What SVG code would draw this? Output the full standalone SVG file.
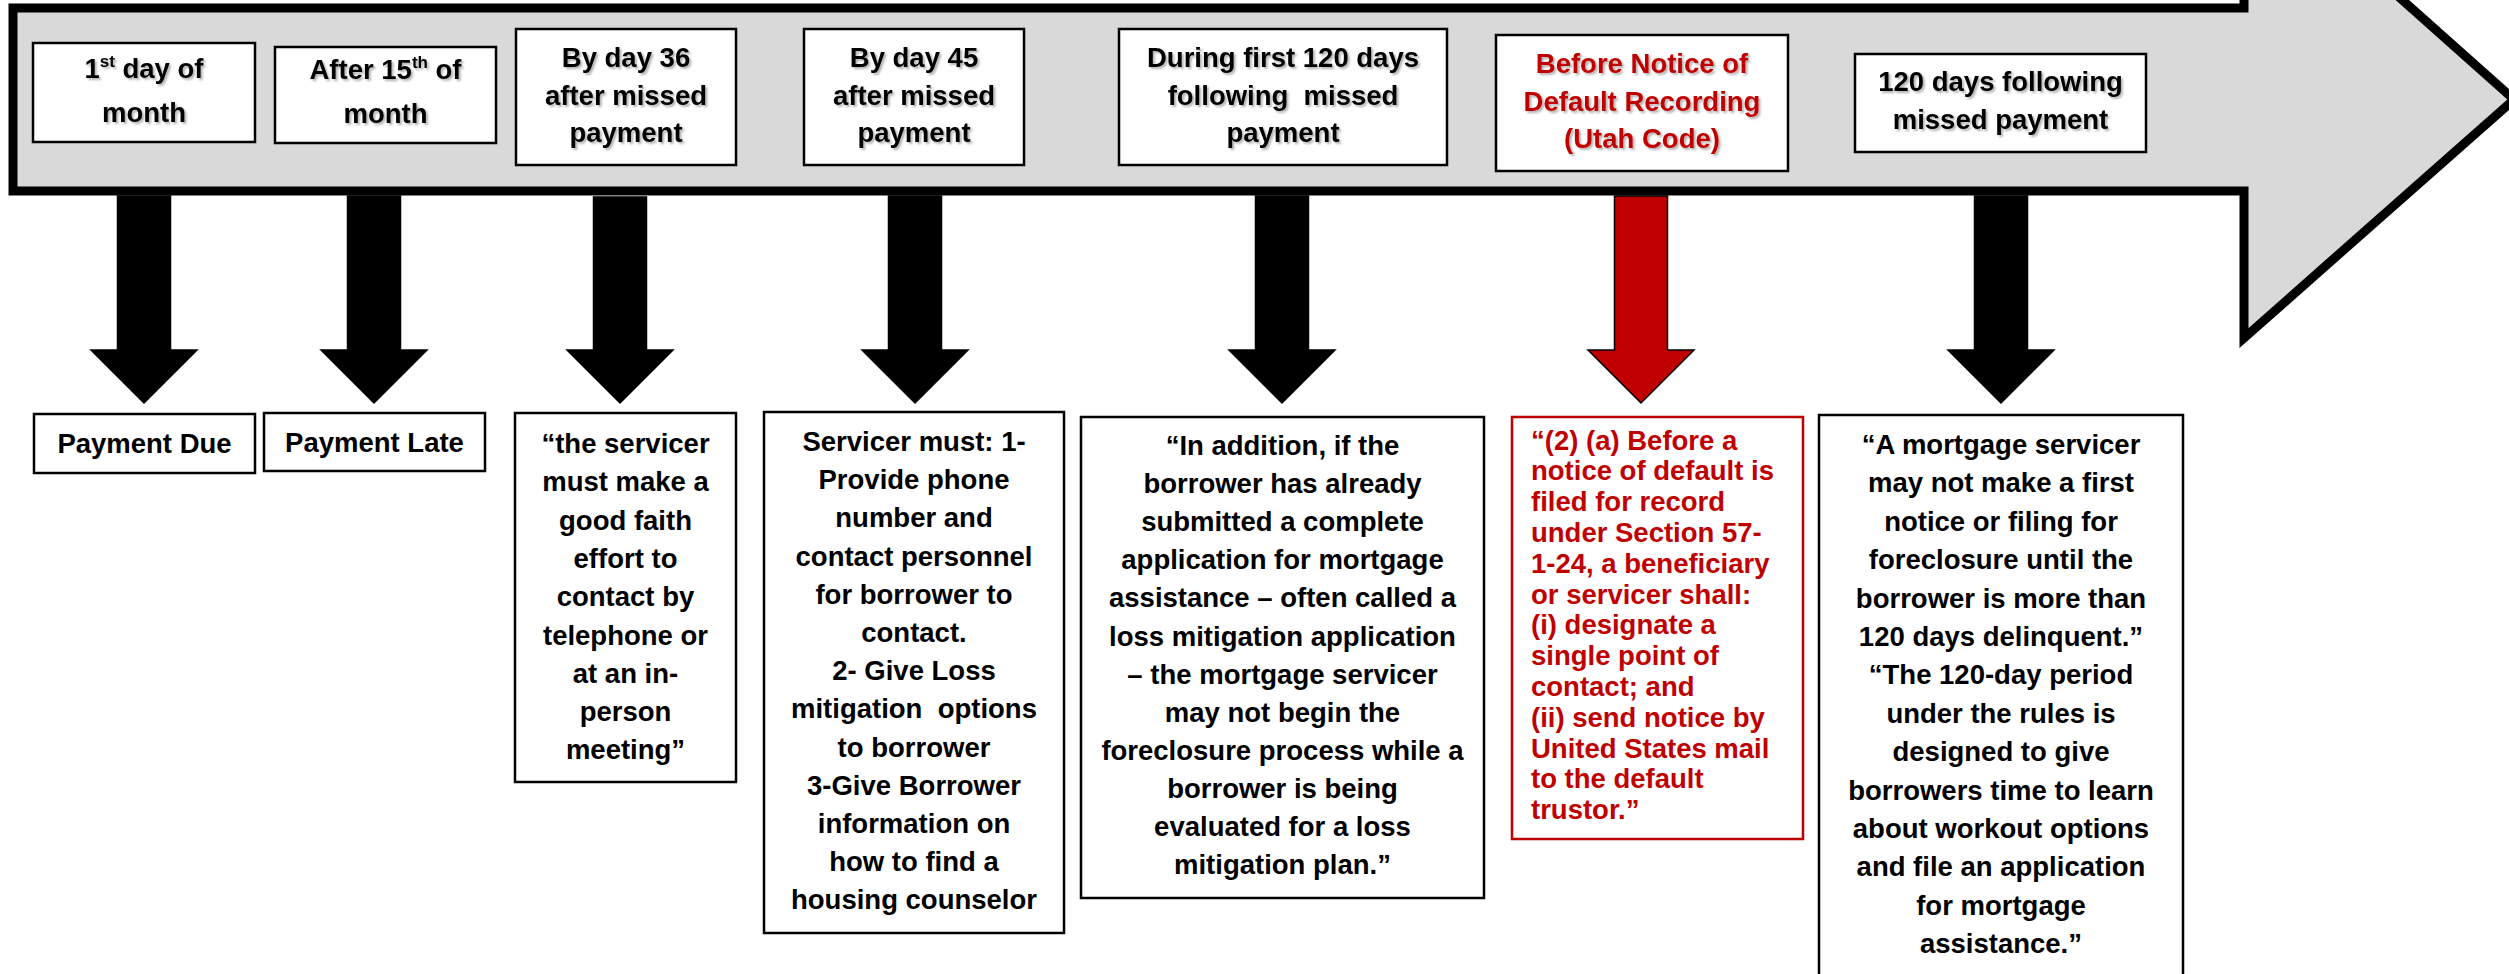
<svg xmlns="http://www.w3.org/2000/svg" width="2509" height="974" viewBox="0 0 2509 974">
  <defs>
    <style>
      .box { fill: #ffffff; stroke: #000000; stroke-width: 2.5; }
      .rbox { fill: #ffffff; stroke: #c00000; stroke-width: 2.5; }
      .t { font-family: "Liberation Sans", Arial, sans-serif; font-weight: bold; font-size: 27.5px; fill: #000000; text-anchor: middle; }
      .r { fill: #c00000; }
      .l { text-anchor: start; }
      .sh { filter: url(#shadow); }
      .arr { fill: #000000; stroke: #000000; stroke-width: 1.5; stroke-linejoin: miter; }
      .rarr { fill: #c00000; stroke: #000000; stroke-width: 1.5; stroke-linejoin: miter; }
    </style>
    <filter id="shadow" x="-10%" y="-20%" width="130%" height="150%">
      <feDropShadow dx="2" dy="2" stdDeviation="1.2" flood-color="#000000" flood-opacity="0.3"/>
    </filter>
  </defs>

  <g id="timeline">
    <path d="M13,8 H2244 V-141 L2514,99.5 L2244,338 V191 H13 Z" fill="#d9d9d9" stroke="#000000" stroke-width="9" stroke-linejoin="miter"/>
  </g>

  <g id="connectors">
    <path class="arr" d="M117.5,196 H170.5 V350 H197 L144,403 L91,350 H117.5 Z"/>
    <path class="arr" d="M347.5,196 H400.5 V350 H427 L374,403 L321,350 H347.5 Z"/>
    <path class="arr" d="M593.5,197 H646.5 V350 H673 L620,403 L567,350 H593.5 Z"/>
    <path class="arr" d="M888.5,196 H941.5 V350 H968 L915,403 L862,350 H888.5 Z"/>
    <path class="arr" d="M1255.5,196 H1308.5 V350 H1335 L1282,403 L1229,350 H1255.5 Z"/>
    <path class="rarr" d="M1614.5,196 H1667.5 V350 H1694 L1641,403 L1588,350 H1614.5 Z"/>
    <path class="arr" d="M1974.5,196 H2027.5 V350 H2054 L2001,403 L1948,350 H1974.5 Z"/>
  </g>

  <g id="top1">
    <rect class="box" x="33" y="43" width="222" height="99"/>
    <text class="t sh" x="144" y="78">1<tspan font-size="17" dy="-11">st</tspan><tspan dy="11"> day of</tspan></text>
    <text class="t sh" x="144" y="122">month</text>
  </g>
  <g id="top2">
    <rect class="box" x="275" y="47" width="221" height="96"/>
    <text class="t sh" x="385.5" y="79">After 15<tspan font-size="17" dy="-11">th</tspan><tspan dy="11"> of</tspan></text>
    <text class="t sh" x="385.5" y="123">month</text>
  </g>
  <g id="top3">
    <rect class="box" x="516" y="29" width="220" height="136"/>
    <text class="t sh" x="626" y="67">By day 36</text>
    <text class="t sh" x="626" y="104.5">after missed</text>
    <text class="t sh" x="626" y="142">payment</text>
  </g>
  <g id="top4">
    <rect class="box" x="804" y="29" width="220" height="136"/>
    <text class="t sh" x="914" y="67">By day 45</text>
    <text class="t sh" x="914" y="104.5">after missed</text>
    <text class="t sh" x="914" y="142">payment</text>
  </g>
  <g id="top5">
    <rect class="box" x="1119" y="29" width="328" height="136"/>
    <text class="t sh" x="1283" y="67">During first 120 days</text>
    <text class="t sh" x="1283" y="104.5" xml:space="preserve">following  missed</text>
    <text class="t sh" x="1283" y="142">payment</text>
  </g>
  <g id="top6">
    <rect class="box" x="1496" y="35" width="292" height="136"/>
    <text class="t r sh" x="1642" y="73">Before Notice of</text>
    <text class="t r sh" x="1642" y="110.5">Default Recording</text>
    <text class="t r sh" x="1642" y="148">(Utah Code)</text>
  </g>
  <g id="top7">
    <rect class="box" x="1855" y="54" width="291" height="98"/>
    <text class="t sh" x="2000.5" y="91">120 days following</text>
    <text class="t sh" x="2000.5" y="129">missed payment</text>
  </g>

  <g id="bottom1">
    <rect class="box" x="34" y="414" width="221" height="59"/>
    <text class="t" x="144.5" y="453">Payment Due</text>
  </g>
  <g id="bottom2">
    <rect class="box" x="264" y="413" width="221" height="58"/>
    <text class="t" x="374.5" y="452">Payment Late</text>
  </g>
  <g id="bottom3">
    <rect class="box" x="515" y="413" width="221" height="369"/>
    <text class="t" x="625.5" y="453">“the servicer</text>
    <text class="t" x="625.5" y="491.3">must make a</text>
    <text class="t" x="625.5" y="529.6">good faith</text>
    <text class="t" x="625.5" y="567.9">effort to</text>
    <text class="t" x="625.5" y="606.2">contact by</text>
    <text class="t" x="625.5" y="644.5">telephone or</text>
    <text class="t" x="625.5" y="682.8">at an in-</text>
    <text class="t" x="625.5" y="721.1">person</text>
    <text class="t" x="625.5" y="759.4">meeting”</text>
  </g>
  <g id="bottom4">
    <rect class="box" x="764" y="412" width="300" height="521"/>
    <text class="t" x="914" y="451">Servicer must: 1-</text>
    <text class="t" x="914" y="489.2">Provide phone</text>
    <text class="t" x="914" y="527.4">number and</text>
    <text class="t" x="914" y="565.6">contact personnel</text>
    <text class="t" x="914" y="603.8">for borrower to</text>
    <text class="t" x="914" y="642">contact.</text>
    <text class="t" x="914" y="680.2">2- Give Loss</text>
    <text class="t" x="914" y="718.4" xml:space="preserve">mitigation  options</text>
    <text class="t" x="914" y="756.6">to borrower</text>
    <text class="t" x="914" y="794.8">3-Give Borrower</text>
    <text class="t" x="914" y="833">information on</text>
    <text class="t" x="914" y="871.2">how to find a</text>
    <text class="t" x="914" y="909.4">housing counselor</text>
  </g>
  <g id="bottom5">
    <rect class="box" x="1081" y="417" width="403" height="481"/>
    <text class="t" x="1282.5" y="455">“In addition, if the</text>
    <text class="t" x="1282.5" y="493.1">borrower has already</text>
    <text class="t" x="1282.5" y="531.2">submitted a complete</text>
    <text class="t" x="1282.5" y="569.3">application for mortgage</text>
    <text class="t" x="1282.5" y="607.4">assistance – often called a</text>
    <text class="t" x="1282.5" y="645.5">loss mitigation application</text>
    <text class="t" x="1282.5" y="683.6">– the mortgage servicer</text>
    <text class="t" x="1282.5" y="721.7">may not begin the</text>
    <text class="t" x="1282.5" y="759.8">foreclosure process while a</text>
    <text class="t" x="1282.5" y="797.9">borrower is being</text>
    <text class="t" x="1282.5" y="836">evaluated for a loss</text>
    <text class="t" x="1282.5" y="874.1">mitigation plan.”</text>
  </g>
  <g id="bottom6">
    <rect class="rbox" x="1512" y="417" width="291" height="422"/>
    <text class="t r l" x="1531" y="449.5">“(2) (a) Before a</text>
    <text class="t r l" x="1531" y="480.3">notice of default is</text>
    <text class="t r l" x="1531" y="511.1">filed for record</text>
    <text class="t r l" x="1531" y="541.9">under Section 57-</text>
    <text class="t r l" x="1531" y="572.7">1-24, a beneficiary</text>
    <text class="t r l" x="1531" y="603.5">or servicer shall:</text>
    <text class="t r l" x="1531" y="634.3">(i) designate a</text>
    <text class="t r l" x="1531" y="665.1">single point of</text>
    <text class="t r l" x="1531" y="695.9">contact; and</text>
    <text class="t r l" x="1531" y="726.7">(ii) send notice by</text>
    <text class="t r l" x="1531" y="757.5">United States mail</text>
    <text class="t r l" x="1531" y="788.3">to the default</text>
    <text class="t r l" x="1531" y="819.1">trustor.”</text>
  </g>
  <g id="bottom7">
    <rect class="box" x="1819" y="415" width="364" height="570"/>
    <text class="t" x="2001" y="454">“A mortgage servicer</text>
    <text class="t" x="2001" y="492.4">may not make a first</text>
    <text class="t" x="2001" y="530.8">notice or filing for</text>
    <text class="t" x="2001" y="569.2">foreclosure until the</text>
    <text class="t" x="2001" y="607.6">borrower is more than</text>
    <text class="t" x="2001" y="646">120 days delinquent.”</text>
    <text class="t" x="2001" y="684.4">“The 120-day period</text>
    <text class="t" x="2001" y="722.8">under the rules is</text>
    <text class="t" x="2001" y="761.2">designed to give</text>
    <text class="t" x="2001" y="799.6">borrowers time to learn</text>
    <text class="t" x="2001" y="838">about workout options</text>
    <text class="t" x="2001" y="876.4">and file an application</text>
    <text class="t" x="2001" y="914.8">for mortgage</text>
    <text class="t" x="2001" y="953.2">assistance.”</text>
  </g>
</svg>
